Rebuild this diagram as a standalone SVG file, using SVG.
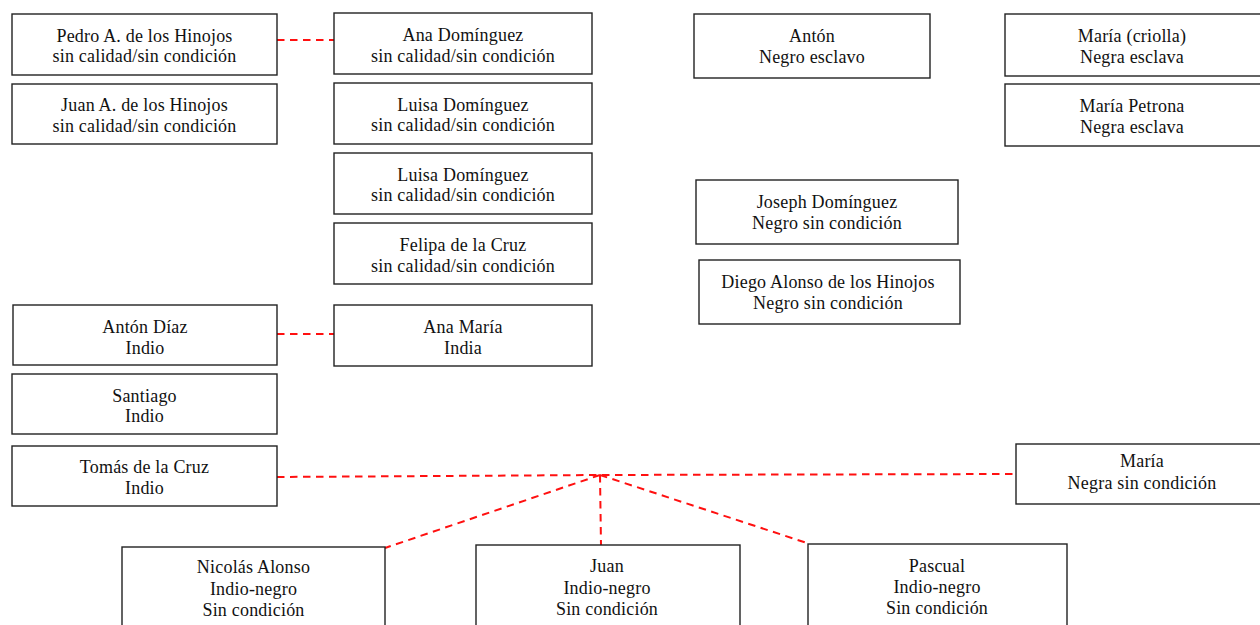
<svg xmlns="http://www.w3.org/2000/svg" width="1260" height="625" viewBox="0 0 1260 625">
<style>
.box{fill:#fff;stroke:#222;stroke-width:1.4}
.t{font-family:'Liberation Serif','Times New Roman',serif;font-size:18px;letter-spacing:0.2px;fill:#111;text-anchor:middle}
.c{fill:none;stroke:#ff1010;stroke-width:2;stroke-dasharray:7.5,5.5}
</style>
<rect width="1260" height="625" fill="#fff"/>
<g id="connectors">
<line class="c" x1="277" y1="40" x2="334" y2="40"/>
<line class="c" x1="277" y1="334" x2="334" y2="334"/>
<polyline class="c" points="277,477 600,475 1016,474"/>
<line class="c" x1="600" y1="475" x2="385" y2="548"/>
<line class="c" x1="600" y1="475" x2="601" y2="545"/>
<line class="c" x1="600" y1="475" x2="810" y2="544"/>
</g>
<g id="pedro"><rect class="box" x="12" y="14" width="265" height="61"/><text class="t" x="144.5" y="42">Pedro A. de los Hinojos</text><text class="t" x="144.5" y="62">sin calidad/sin condición</text></g>
<g id="juan-a"><rect class="box" x="12" y="84" width="265" height="60"/><text class="t" x="144.5" y="111">Juan A. de los Hinojos</text><text class="t" x="144.5" y="132">sin calidad/sin condición</text></g>
<g id="ana-dominguez"><rect class="box" x="334" y="13" width="258" height="61"/><text class="t" x="463" y="41">Ana Domínguez</text><text class="t" x="463" y="62">sin calidad/sin condición</text></g>
<g id="luisa1"><rect class="box" x="334" y="83" width="258" height="61"/><text class="t" x="463" y="111">Luisa Domínguez</text><text class="t" x="463" y="131">sin calidad/sin condición</text></g>
<g id="luisa2"><rect class="box" x="334" y="153" width="258" height="61"/><text class="t" x="463" y="181">Luisa Domínguez</text><text class="t" x="463" y="201">sin calidad/sin condición</text></g>
<g id="felipa"><rect class="box" x="334" y="223" width="258" height="61"/><text class="t" x="463" y="251">Felipa de la Cruz</text><text class="t" x="463" y="272">sin calidad/sin condición</text></g>
<g id="anton-diaz"><rect class="box" x="13" y="305" width="264" height="60"/><text class="t" x="145" y="333">Antón Díaz</text><text class="t" x="145" y="354">Indio</text></g>
<g id="ana-maria"><rect class="box" x="334" y="305" width="258" height="61"/><text class="t" x="463" y="333">Ana María</text><text class="t" x="463" y="354">India</text></g>
<g id="santiago"><rect class="box" x="12" y="374" width="265" height="60"/><text class="t" x="144.5" y="402">Santiago</text><text class="t" x="144.5" y="422">Indio</text></g>
<g id="tomas"><rect class="box" x="12" y="446" width="265" height="60"/><text class="t" x="144.5" y="473">Tomás de la Cruz</text><text class="t" x="144.5" y="494">Indio</text></g>
<g id="anton"><rect class="box" x="694" y="14" width="236" height="64"/><text class="t" x="812" y="42">Antón</text><text class="t" x="812" y="63">Negro esclavo</text></g>
<g id="maria-criolla"><rect class="box" x="1005" y="14" width="260" height="62"/><text class="t" x="1132" y="42">María (criolla)</text><text class="t" x="1132" y="63">Negra esclava</text></g>
<g id="maria-petrona"><rect class="box" x="1005" y="84" width="260" height="62"/><text class="t" x="1132" y="112">María Petrona</text><text class="t" x="1132" y="133">Negra esclava</text></g>
<g id="joseph"><rect class="box" x="696" y="180" width="262" height="64"/><text class="t" x="827" y="208">Joseph Domínguez</text><text class="t" x="827" y="229">Negro sin condición</text></g>
<g id="diego"><rect class="box" x="699" y="260" width="261" height="64"/><text class="t" x="828" y="288">Diego Alonso de los Hinojos</text><text class="t" x="828" y="309">Negro sin condición</text></g>
<g id="maria-negra"><rect class="box" x="1016" y="444" width="250" height="60"/><text class="t" x="1142" y="467">María</text><text class="t" x="1142" y="489">Negra sin condición</text></g>
<g id="nicolas"><rect class="box" x="122" y="547" width="263" height="90"/><text class="t" x="253.5" y="573">Nicolás Alonso</text><text class="t" x="253.5" y="594.5">Indio-negro</text><text class="t" x="253.5" y="616">Sin condición</text></g>
<g id="juan"><rect class="box" x="476" y="545" width="264" height="90"/><text class="t" x="607" y="572">Juan</text><text class="t" x="607" y="593.5">Indio-negro</text><text class="t" x="607" y="615">Sin condición</text></g>
<g id="pascual"><rect class="box" x="808" y="544" width="259" height="90"/><text class="t" x="937" y="572">Pascual</text><text class="t" x="937" y="593">Indio-negro</text><text class="t" x="937" y="614">Sin condición</text></g>
</svg>
